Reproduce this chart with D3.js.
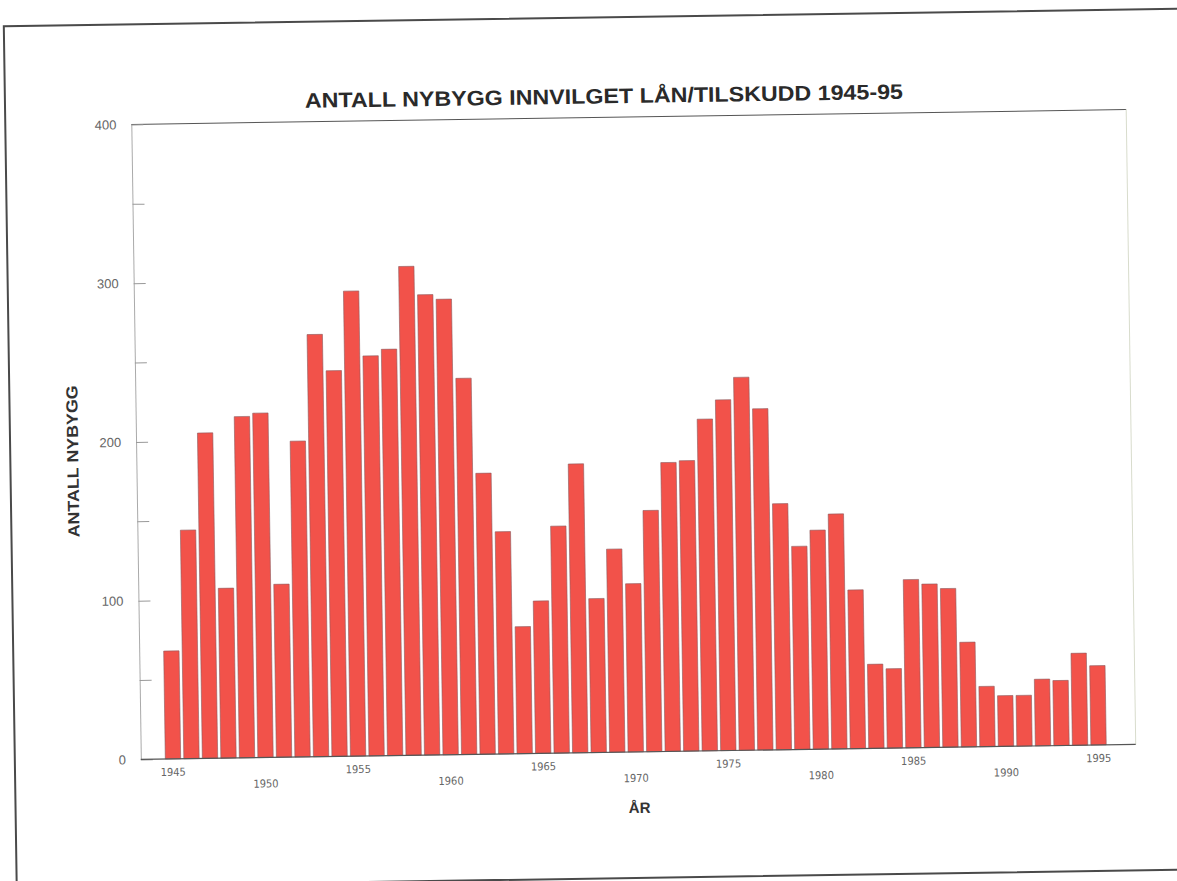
<!DOCTYPE html>
<html>
<head>
<meta charset="utf-8">
<script src="https://cdn.jsdelivr.net/npm/d3@7"></script>
<style>
  body { margin: 0; background: #fff; }
  svg { display: block; }
</style>
</head>
<body>
<div id="chart"></div>
<script>
// data
const years = d3.range(1945, 1996);
const counts = [68, 144, 205, 107, 215, 217, 109, 199, 266, 243,
                293, 252, 256, 308, 290, 287, 237, 177, 140, 80,
                96, 143, 182, 97, 128, 106, 152, 182, 183, 209,
                221, 235, 215, 155, 128, 138, 148, 100, 53, 50,
                106, 103, 100, 66, 38, 32, 32, 42, 41, 58, 50];
const yTicks = [0, 50, 100, 150, 200, 250, 300, 350, 400];
const xLabelYears = [1945, 1950, 1955, 1960, 1965, 1970, 1975, 1980, 1985, 1990, 1995];

const width = 1177, height = 881;
const plot = {left: 136, right: 1131, top: 117, bottom: 752};

const svg = d3.select("#chart")
  .append("svg")
  .attr("width", width)
  .attr("height", height);

// the scan is tilted a little, so everything sits in a rotated group
const g = svg.append("g")
  .attr("transform", "rotate(-0.86, 630, 434)");

// page frame
g.append("rect")
  .attr("x", 10)
  .attr("y", 17)
  .attr("width", 1200)
  .attr("height", 861)
  .attr("fill", "none")
  .attr("stroke", "#4a4a4a")
  .attr("stroke-width", 2);

// scales
const x = d3.scaleBand()
  .domain(years)
  .range([159, 1103])
  .paddingInner(0.17)
  .paddingOuter(0.08);

const y = d3.scaleLinear()
  .domain([0, 400])
  .range([plot.bottom, plot.top]);

// top and right frame of the plot area
g.append("line")
  .attr("x1", plot.left).attr("x2", plot.right)
  .attr("y1", plot.top).attr("y2", plot.top)
  .attr("stroke", "#555").attr("stroke-width", 1);

g.append("line")
  .attr("x1", plot.right).attr("x2", plot.right)
  .attr("y1", plot.top).attr("y2", plot.bottom)
  .attr("stroke", "#d8dccc").attr("stroke-width", 1);

// y axis, ticks point into the plot
const yAxis = g.append("g")
  .attr("transform", `translate(${plot.left},0)`)
  .call(d3.axisLeft(y)
    .tickValues(yTicks)
    .tickSizeInner(-12)
    .tickSizeOuter(0)
    .tickPadding(15)
    .tickFormat(d => d % 100 === 0 ? d : ""));

yAxis.select(".domain").attr("stroke", "#aaa");
yAxis.selectAll(".tick line").attr("stroke", "#999");
yAxis.selectAll(".tick text")
  .attr("fill", "#666")
  .attr("font-family", "'Liberation Sans', Arial, sans-serif")
  .attr("font-size", "13px");

// bars
g.selectAll(".bar")
  .data(counts)
  .enter()
  .append("rect")
    .attr("class", "bar")
    .attr("x", (d, i) => x(years[i]))
    .attr("y", d => y(d))
    .attr("width", x.bandwidth())
    .attr("height", d => plot.bottom - y(d))
    .attr("fill", "#f2524a")
    .attr("stroke", "#8a5a5e")
    .attr("stroke-width", 0.6);

// x axis line
g.append("line")
  .attr("x1", plot.left).attr("x2", plot.right)
  .attr("y1", plot.bottom).attr("y2", plot.bottom)
  .attr("stroke", "#555").attr("stroke-width", 1.2);

// x axis labels, staggered in two rows
const xAxis = g.append("g")
  .attr("transform", `translate(0,${plot.bottom})`)
  .call(d3.axisBottom(x)
    .tickValues(xLabelYears)
    .tickSize(0)
    .tickPadding(0));

xAxis.select(".domain").remove();
xAxis.selectAll(".tick text")
  .attr("fill", "#666")
  .attr("font-family", "'Liberation Sans Narrow', 'DejaVu Sans Condensed', sans-serif")
  .attr("font-size", "11px")
  .attr("dy", null)
  .attr("y", d => (d % 10 === 5 ? 17 : 30));

// titles
g.append("text")
  .attr("x", 609)
  .attr("y", 103)
  .attr("text-anchor", "middle")
  .attr("textLength", 598)
  .attr("lengthAdjust", "spacingAndGlyphs")
  .attr("font-family", "'Liberation Sans', Arial, sans-serif")
  .attr("font-weight", "bold")
  .attr("font-size", "21px")
  .attr("fill", "#2a2a2a")
  .text("ANTALL NYBYGG INNVILGET LÅN/TILSKUDD 1945-95");

g.append("text")
  .attr("transform", "translate(78,453) rotate(-90)")
  .attr("text-anchor", "middle")
  .attr("textLength", 152)
  .attr("lengthAdjust", "spacingAndGlyphs")
  .attr("font-family", "'Liberation Sans', Arial, sans-serif")
  .attr("font-weight", "bold")
  .attr("font-size", "16px")
  .attr("fill", "#333")
  .text("ANTALL NYBYGG");

g.append("text")
  .attr("x", 634)
  .attr("y", 813)
  .attr("text-anchor", "middle")
  .attr("font-family", "'Liberation Sans', Arial, sans-serif")
  .attr("font-weight", "bold")
  .attr("font-size", "15px")
  .attr("fill", "#333")
  .text("ÅR");
</script>
</body>
</html>
